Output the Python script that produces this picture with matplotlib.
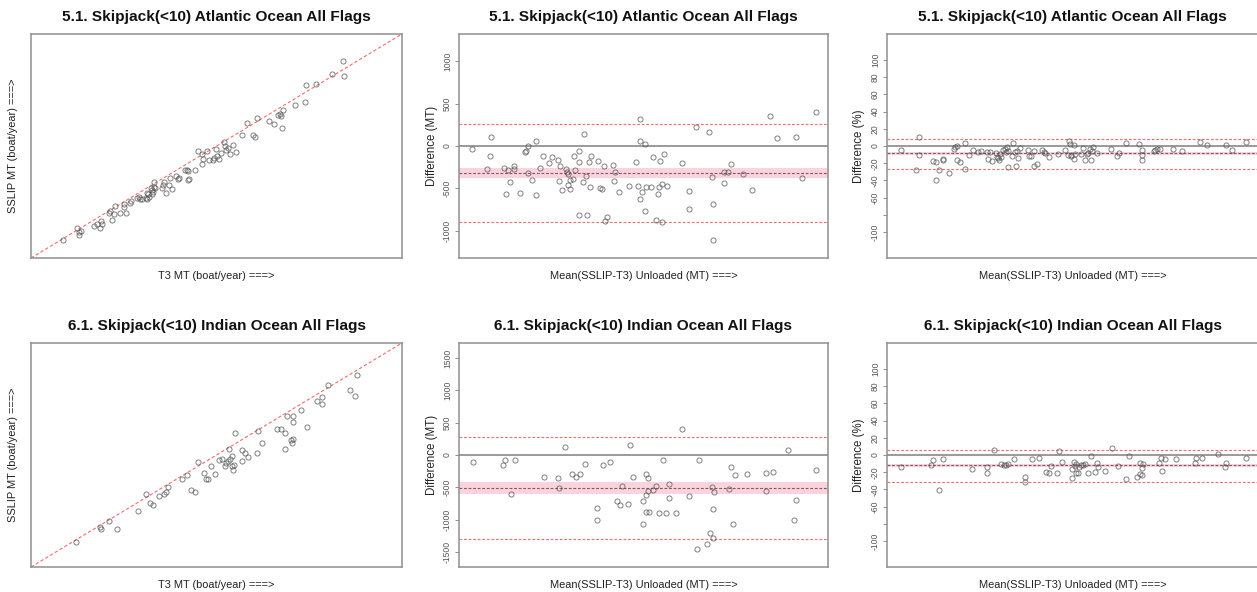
import matplotlib
matplotlib.use("Agg")
import matplotlib.pyplot as plt

plt.rcParams['font.family'] = ['Liberation Sans', 'DejaVu Sans']

# titles / labels
atl_title = "5.1. Skipjack(<10) Atlantic Ocean All Flags"
ind_title = "6.1. Skipjack(<10) Indian Ocean All Flags"
xlab_scatter = "T3 MT (boat/year) ===>"
ylab_scatter = "SSLIP MT (boat/year) ===>"
xlab_diff = "Mean(SSLIP-T3) Unloaded (MT) ===>"

# --- Atlantic: T3 vs SSLIP (no scale shown, relative units 0-1000)
atl_t3 = [85, 123, 130, 134, 130, 170, 179, 187, 190, 192,
          209, 213, 217, 225, 226, 239, 252, 250, 256, 268,
          270, 286, 290, 294, 300, 310, 313, 316, 313, 319,
          323, 325, 327, 331, 331, 333, 328, 354, 357, 359,
          363, 372, 376, 380, 392, 395, 399, 415, 420, 424,
          427, 423, 442, 450, 460, 462, 464, 474, 480, 490,
          493, 499, 500, 508, 511, 520, 522, 526, 531, 537,
          545, 552, 568, 581, 599, 604, 610, 642, 656, 666,
          671, 675, 678, 677, 711, 738, 742, 768, 811, 841, 845]
atl_sslip = [82, 132, 115, 121, 104, 144, 150, 135, 165, 153,
             199, 208, 168, 196, 231, 202, 229, 241, 201, 247,
             256, 269, 272, 262, 262, 266, 289, 284, 263, 271,
             311, 304, 284, 341, 317, 311, 293, 314, 326, 338,
             290, 326, 357, 308, 368, 353, 357, 393, 393, 388,
             351, 347, 393, 478, 464, 418, 443, 478, 438, 438,
             445, 487, 455, 440, 469, 516, 499, 481, 491, 463,
             504, 473, 549, 602, 551, 542, 627, 611, 597, 639,
             645, 632, 661, 579, 685, 695, 774, 779, 823, 878, 813]

# --- Atlantic: difference (MT)
atl_mean = [35, 76, 86, 85, 123, 127, 132, 139, 150, 150,
            164, 180, 182, 187, 188, 198, 208, 209, 220, 228,
            245, 253, 267, 271, 273, 280, 291, 294, 295, 296,
            300, 301, 308, 313, 315, 324, 325, 326, 336, 338,
            343, 347, 351, 354, 359, 378, 382, 388, 393, 397,
            402, 416, 419, 422, 434, 461, 479, 484, 490, 490,
            490, 495, 504, 505, 508, 521, 526, 535, 538, 541,
            546, 550, 551, 555, 564, 604, 622, 622, 642, 678,
            686, 687, 687, 719, 718, 728, 736, 771, 795, 844, 863, 914, 930, 967]
atl_diff = [-35, -267, 106, -114, -259, -570, -287, -428, -232, -271,
            -550, -71, -55, -318, 0, -405, -582, 63, -259, -114,
            -197, -126, -165, -417, -232, -515, -267, -307, -456, -326,
            -507, -405, -389, -114, -287, -193, -63, -810, -424, 141,
            -358, -814, -193, -487, -114, -173, -495, -503, -240, -884,
            -837, -228, -417, -307, -538, -468, -189, -468, 314, 55,
            -621, -546, 28, -766, -483, -483, -126, -872, -570, -483,
            -177, -444, -896, -98, -468, -200, -534, -739, 224, 169,
            -369, -680, -1112, -440, -303, -307, -208, -330, -515, 354, 98, 110, -381, 401]
atl_diff_mean = -318
atl_diff_ci = (-373, -263)
atl_diff_loa = (-892, 263)

# --- Atlantic: difference (%)
atl_pct_x = [38, 77, 87, 87, 124, 133, 131, 141, 150, 150,
             166, 180, 184, 188, 188, 198, 209, 210, 222, 231,
             245, 253, 270, 272, 277, 282, 294, 297, 299, 302,
             305, 308, 314, 317, 322, 324, 326, 327, 336, 340,
             345, 349, 351, 354, 359, 379, 384, 389, 395, 397,
             403, 419, 422, 426, 437, 462, 481, 487, 491, 492,
             495, 497, 505, 505, 507, 523, 527, 535, 539, 541,
             548, 550, 552, 556, 565, 605, 621, 624, 644, 678,
             686, 686, 688, 719, 722, 728, 736, 772, 795, 844, 863, 915, 931, 967]
atl_pct = [-5, -28, 10.8, -10.8, -17.7, -18.8, -39, -28, -14.6, -16,
           -30.8, -3.8, -1.5, 0.4, -15.8, -18.8, 3.1, -26.5, -10.8, -5,
           -6.9, -5.4, -6.5, -15, -7.3, -17.7, -8.1, -12.3, -13.8, -16.5,
           -9.6, -12.7, -4.2, -3.5, -6.9, -1.5, -5.8, -24.2, -11.5, 3.8,
           -6.9, -23, -5.4, -13.5, -2.7, -5, -11.9, -11.9, -5.8, -22.7,
           -21.2, -5, -6.9, -8.1, -12.3, -9.6, -4.6, -10, 6.2, 1.9,
           -11.9, -10.4, -15.4, 1.2, -8.8, -8.8, -2.3, -16.5, -9.6, -8.5,
           -3.1, -16.2, -5.8, -1.5, -8.1, -3.5, -11.2, -7.7, 3.5, 2.7,
           -4.6, -10.4, -16.5, -5.4, -4.2, -3.8, -3.1, -3.8, -6.2, 4.6, 1.5, 1.5, -4.2, 4.2]
atl_pct_mean = -8.5
atl_pct_ci = (-10.4, -6.9)
atl_pct_loa = (-26.5, 8.1)

# --- Indian: T3 vs SSLIP
ind_t3 = [121, 187, 189, 210, 232, 288, 310, 321, 329, 346,
          359, 365, 370, 408, 420, 431, 441, 450, 467, 471,
          477, 484, 495, 506, 515, 524, 525, 530, 536, 541,
          533, 542, 545, 548, 550, 568, 570, 578, 585, 609,
          612, 622, 662, 673, 684, 684, 689, 700, 706, 706,
          703, 707, 729, 743, 772, 785, 785, 801, 859, 873, 878]
ind_sslip = [110, 180, 169, 205, 168, 251, 328, 284, 276, 316,
             325, 337, 357, 392, 412, 345, 333, 468, 419, 395,
             395, 450, 415, 477, 480, 450, 465, 475, 483, 495,
             527, 450, 431, 455, 600, 522, 475, 508, 490, 510,
             608, 553, 614, 614, 597, 527, 673, 569, 673, 646,
             553, 571, 700, 627, 743, 759, 728, 811, 788, 765, 857]

# --- Indian: difference (MT)
ind_mean = [37, 118, 124, 142, 151, 229, 268, 270, 287, 305,
            316, 327, 342, 373, 373, 389, 409, 429, 435, 442,
            457, 463, 472, 498, 498, 506, 511, 506, 512, 508,
            514, 525, 533, 541, 552, 560, 568, 568, 587, 605,
            622, 644, 651, 673, 681, 685, 687, 687, 692, 732,
            738, 742, 748, 780, 833, 832, 851, 892, 909, 913, 967]
ind_diff = [-108, -149, -77, -601, -82, -344, -350, -504, 129, -298,
            -344, -288, -139, -812, -1002, -154, -113, -704, -766, -483,
            -750, 154, -334, -704, -1064, -298, -350, -612, -560, -874,
            -884, -535, -483, -889, -72, -894, -442, -658, -900, 406,
            -637, -1455, -72, -1378, -1198, -499, -1285, -833, -571, -529,
            -180, -1069, -303, -298, -283, -555, -262, 72, -1002, -694, -226]
ind_diff_mean = -509
ind_diff_ci = (-607, -411)
ind_diff_loa = (-1295, 278)

# --- Indian: difference (%)
ind_pct_x = [38, 119, 123, 141, 151, 229, 269, 269, 288, 306,
             315, 320, 327, 343, 373, 373, 390, 410, 429, 436,
             442, 457, 463, 472, 498, 498, 505, 506, 510, 510,
             514, 517, 523, 528, 534, 541, 550, 561, 567, 568,
             587, 606, 622, 644, 651, 674, 681, 682, 686, 687,
             691, 732, 738, 742, 749, 780, 831, 832, 850, 892, 910, 914, 967]
ind_pct = [-14.2, -11.5, -5.8, -41, -5, -15.8, -14.2, -21.2, 5.4, -10.8,
           -11.9, -11.2, -10, -4.6, -25.4, -31.5, -4.6, -3.1, -19.2, -21.2,
           -12.3, -20.4, 4.2, -8.5, -16.5, -26.2, -7.7, -12.7, -21.2, -10.4,
           -21.2, -13.5, -11.9, -11.9, -10.8, -20.4, -1.2, -19.2, -9.6, -14.2,
           -18.8, 8.5, -12.3, -28, -1.2, -25, -22.3, -8.8, -23.5, -14.6,
           -10, -9.2, -3.1, -18.1, -5, -4.6, -8.8, -3.8, -3.5, 1.2, -13.5, -9.2, -3.1]
ind_pct_mean = -11.9
ind_pct_ci = (-13.8, -10.4)
ind_pct_loa = (-30.8, 5.8)

atl_diff_ticks = [-1000, -500, 0, 500, 1000]
ind_diff_ticks = [-1500, -1000, -500, 0, 500, 1000, 1500]
pct_ticks = [-100, -80, -60, -40, -20, 0, 20, 40, 60, 80, 100]
pct_tick_labels = ["-100", "", "-60", "-40", "-20", "0", "20", "40", "60", "80", "100"]

FRAME = "#8f8f8f"
RED = "#f26d6d"
PT = "#555555"


def frame(ax, title):
    for s in ax.spines.values():
        s.set_color(FRAME)
        s.set_linewidth(1.1)
    ax.set_xticks([])
    ax.set_title(title, fontsize=11.1, fontweight="bold", pad=9.5, color="#111111")


def points(ax, x, y):
    ax.plot(x, y, "o", ls="none", ms=3.7, mfc="none", mec=PT, mew=0.6, alpha=0.85)


def scatter_panel(ax, t3, sslip, title):
    frame(ax, title)
    ax.set_yticks([])
    ax.set_xlim(0, 1000)
    ax.set_ylim(0, 1000)
    ax.plot([0, 1000], [0, 1000], color=RED, lw=0.8, dashes=(3, 2))
    points(ax, t3, sslip)
    ax.set_xlabel(xlab_scatter, fontsize=7.9, color="#222222")
    ax.xaxis.set_label_coords(0.5, -0.058)
    ax.set_ylabel(ylab_scatter, fontsize=7.9, color="#222222")
    ax.yaxis.set_label_coords(-0.035, 0.5)


def diff_panel(ax, x, y, mean, ci, loa, lim, ticks, labels, ylabel, title):
    frame(ax, title)
    ax.set_xlim(0, 1000)
    ax.set_ylim(-lim, lim)
    ax.axhspan(ci[0], ci[1], color="#fbd3dc", lw=0)
    ax.axhline(0, color="#7f7f7f", lw=1.1)
    ax.axhline(mean, color="#7a5a64", lw=0.8, dashes=(2.5, 1.6))
    for v in loa:
        ax.axhline(v, color=RED, lw=0.8, dashes=(2.5, 1.6))
    points(ax, x, y)
    ax.set_yticks(ticks)
    ax.set_yticklabels(labels, rotation=90, va="center", fontsize=6.2, color="#555555")
    ax.tick_params(axis="y", direction="out", length=3, width=0.7, color=FRAME, pad=2)
    ax.set_xlabel(xlab_diff, fontsize=7.9, color="#222222")
    ax.xaxis.set_label_coords(0.5, -0.058)
    ax.set_ylabel(ylabel, fontsize=8.3, color="#222222")
    ax.yaxis.set_label_coords(-0.058, 0.5)


fig = plt.figure(figsize=(12.57, 5.92), dpi=100)

left_x = [31 / 1257, 459 / 1257, 887 / 1257]
widths = [371 / 1257, 369 / 1257, 371 / 1257]
row_y = [334 / 592, 25 / 592]
row_h = 224 / 592

ax = fig.add_axes([left_x[0], row_y[0], widths[0], row_h])
scatter_panel(ax, atl_t3, atl_sslip, atl_title)
ax = fig.add_axes([left_x[1], row_y[0], widths[1], row_h])
diff_panel(ax, atl_mean, atl_diff, atl_diff_mean, atl_diff_ci, atl_diff_loa, 1320,
           atl_diff_ticks, [str(t) for t in atl_diff_ticks], "Difference (MT)", atl_title)
ax = fig.add_axes([left_x[2], row_y[0], widths[2], row_h])
diff_panel(ax, atl_pct_x, atl_pct, atl_pct_mean, atl_pct_ci, atl_pct_loa, 130,
           pct_ticks, pct_tick_labels, "Difference (%)", atl_title)

ax = fig.add_axes([left_x[0], row_y[1], widths[0], row_h])
scatter_panel(ax, ind_t3, ind_sslip, ind_title)
ax = fig.add_axes([left_x[1], row_y[1], widths[1], row_h])
diff_panel(ax, ind_mean, ind_diff, ind_diff_mean, ind_diff_ci, ind_diff_loa, 1730,
           ind_diff_ticks, [str(t) for t in ind_diff_ticks], "Difference (MT)", ind_title)
ax = fig.add_axes([left_x[2], row_y[1], widths[2], row_h])
diff_panel(ax, ind_pct_x, ind_pct, ind_pct_mean, ind_pct_ci, ind_pct_loa, 130,
           pct_ticks, pct_tick_labels, "Difference (%)", ind_title)

fig.savefig("out.png", dpi=100, facecolor="white")
